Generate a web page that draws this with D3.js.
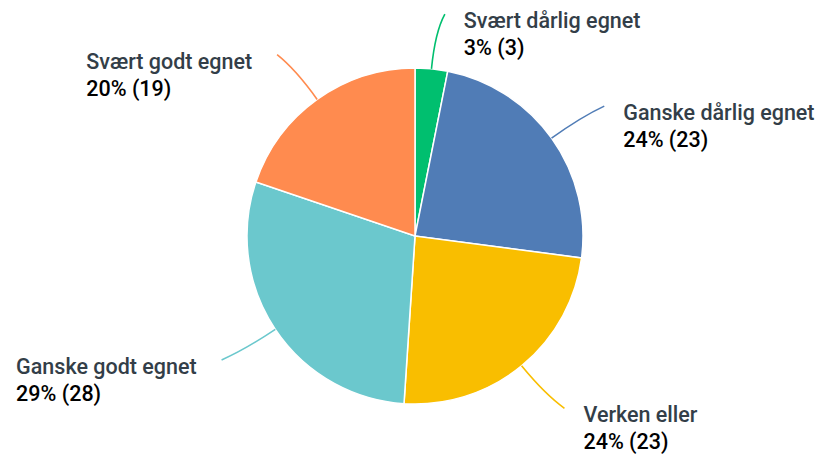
<!DOCTYPE html>
<html><head><meta charset="utf-8">
<script src="https://cdn.jsdelivr.net/npm/d3@7"></script>
<style>body{margin:0;background:#fff}svg{display:block}</style>
</head><body>
<script>
const categories = ["Svært dårlig egnet","Ganske dårlig egnet","Verken eller","Ganske godt egnet","Svært godt egnet"];
const counts = [3,23,23,28,19];
const percentLabels = ["3%","24%","24%","29%","20%"];
const colors = ["#00BF6F","#507CB6","#F9BE00","#6BC8CD","#FF8B4F"];

const W=823,H=458, cx=415, cy=236, R=168;
const svg=d3.select("body").append("svg").attr("width",W).attr("height",H);
const g=svg.append("g").attr("transform",`translate(${cx},${cy})`);
const data=categories.map((c,i)=>({c,v:counts[i],p:percentLabels[i],col:colors[i]}));
const arcs=d3.pie().sort(null).value(d=>d.v)(data);
const arc=d3.arc().innerRadius(0).outerRadius(R);
g.selectAll("path.s").data(arcs).join("path").attr("class","s")
 .attr("d",arc).attr("fill",d=>d.data.col).attr("stroke","#fff").attr("stroke-width",1.5);

const font="Roboto, 'Open Sans', sans-serif";
arcs.forEach(a=>{
  const m=(a.startAngle+a.endAngle)/2;
  const dx=Math.sin(m), dy=-Math.cos(m);
  const right = dx>=0;
  const s=[dx*R,dy*R], c=[dx*205,dy*205];
  const e=[dx*223+(right?8:-8), dy*223];
  g.append("path").attr("d",`M${s[0]},${s[1]}Q${c[0]},${c[1]} ${e[0]},${e[1]}`)
   .attr("fill","none").attr("stroke",a.data.col).attr("stroke-width",1.6);
  const t=g.append("text").attr("font-family",font).attr("font-size",21.5).attr("font-weight",500);
  const t1=t.append("tspan").attr("fill","#333E48").text(a.data.c);
  const t2=t.append("tspan").attr("fill","#000").text(`${a.data.p} (${a.data.v})`);
  const w=Math.max(t1.node().getComputedTextLength(), t2.node().getComputedTextLength());
  const x = right ? e[0]+19 : e[0]-25-w;
  t1.attr("x",x).attr("y",e[1]+14);
  t2.attr("x",x).attr("y",e[1]+41);
});
</script>
</body></html>
